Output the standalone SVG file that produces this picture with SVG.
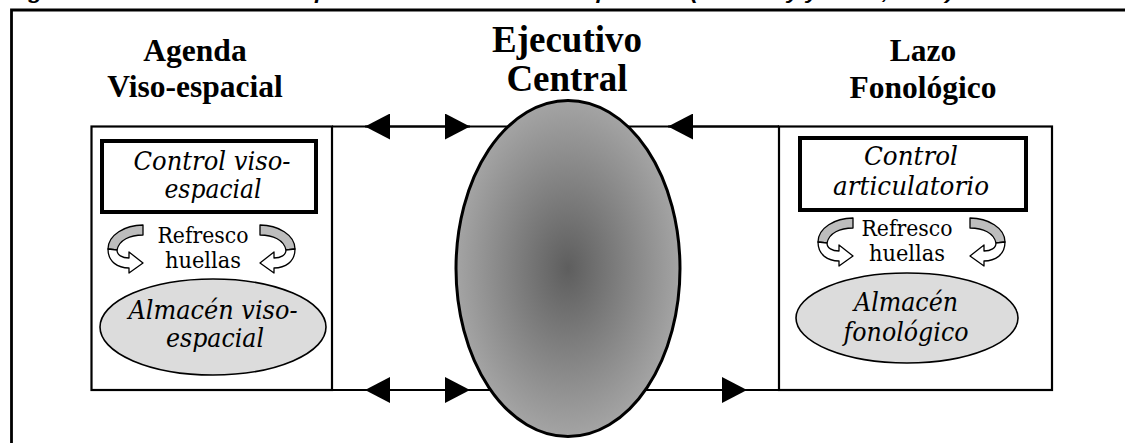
<svg xmlns="http://www.w3.org/2000/svg" xmlns:xlink="http://www.w3.org/1999/xlink" width="1125" height="443" viewBox="0 0 1125 443">
<style>
.head{font-family:"Liberation Serif","Times New Roman",serif;font-weight:bold;text-anchor:middle;fill:#000}
.lab{font-family:"DejaVu Serif",serif;font-style:italic;font-size:26px;text-anchor:middle;fill:#000}
.ref{font-family:"DejaVu Serif",serif;font-size:22px;text-anchor:middle;fill:#000}
.panel{fill:#fff;stroke:#000;stroke-width:2.2}
.ctrl{fill:#fff;stroke:#000;stroke-width:4}
.store{fill:#dcdcdc;stroke:#000;stroke-width:1.6}
.conn{stroke:#000;stroke-width:2.2;fill:none}
.cap{font-family:"Liberation Sans",Arial,sans-serif;font-weight:bold;font-style:italic;font-size:18px;fill:#000}
</style>
<defs>
<radialGradient id="ceGrad" cx="0.5" cy="0.5" r="0.5">
<stop offset="0" stop-color="#5e5e5e"/>
<stop offset="1" stop-color="#a4a4a4"/>
</radialGradient>
<marker id="ah" viewBox="0 0 25 26" refX="25" refY="13" markerWidth="25" markerHeight="26" markerUnits="userSpaceOnUse" orient="auto-start-reverse">
<path d="M0,0 L25,13 L0,26 Z" fill="#000"/>
</marker>
<g id="curl">
<path d="M35,0 C17,0 0,10 0,24 L9,25 C11,15 22,10 35,10 Z" fill="#bdbdbd" stroke="#000" stroke-width="1.3" stroke-linejoin="round"/>
<path d="M0,24 C0,37 10,43 21,43 L21,48 L35,38 L21,27 L21,33 C14,33 9,30 9,25 Z" fill="#fff" stroke="#000" stroke-width="1.3" stroke-linejoin="round"/>
</g>
</defs>
<rect width="1125" height="443" fill="#fff"/>
<text class="cap" x="8" y="-1" textLength="945" lengthAdjust="spacingAndGlyphs">Figura 1. Modelo de los componentes de la memoria operativa (Baddeley y Hitch, 1974)</text>
<path d="M11.5,443 L11.5,10 L1125,10" fill="none" stroke="#000" stroke-width="2.8"/>

<g id="agenda">
<text class="head" x="195" y="61" font-size="31.5">Agenda</text>
<text class="head" x="195" y="97" font-size="31.5">Viso-espacial</text>
<rect class="panel" x="91.5" y="126.5" width="240.5" height="263.5"/>
<rect class="ctrl" x="102" y="141" width="214" height="71"/>
<text class="lab" x="212" y="170" textLength="157" lengthAdjust="spacingAndGlyphs">Control viso-</text>
<text class="lab" x="213" y="198" textLength="97" lengthAdjust="spacingAndGlyphs">espacial</text>
<use xlink:href="#curl" transform="translate(108,225)"/>
<use xlink:href="#curl" transform="translate(295,225) scale(-1,1)"/>
<text class="ref" x="203" y="243" textLength="91" lengthAdjust="spacingAndGlyphs">Refresco</text>
<text class="ref" x="203" y="268" textLength="76" lengthAdjust="spacingAndGlyphs">huellas</text>
<ellipse class="store" cx="213" cy="327" rx="113" ry="48"/>
<text class="lab" x="213" y="319" textLength="169" lengthAdjust="spacingAndGlyphs">Almacén viso-</text>
<text class="lab" x="215" y="347" textLength="98" lengthAdjust="spacingAndGlyphs">espacial</text>
</g>

<g id="lazo">
<text class="head" x="923" y="61" font-size="31.5">Lazo</text>
<text class="head" x="923" y="98" font-size="31.5">Fonológico</text>
<rect class="panel" x="779" y="126.5" width="273" height="263.5"/>
<rect class="ctrl" x="800" y="138" width="226" height="72"/>
<text class="lab" x="911" y="165" textLength="94" lengthAdjust="spacingAndGlyphs">Control</text>
<text class="lab" x="911" y="195" textLength="156" lengthAdjust="spacingAndGlyphs">articulatorio</text>
<use xlink:href="#curl" transform="translate(818,218)"/>
<use xlink:href="#curl" transform="translate(1005,218) scale(-1,1)"/>
<text class="ref" x="907" y="236" textLength="91" lengthAdjust="spacingAndGlyphs">Refresco</text>
<text class="ref" x="907" y="261" textLength="76" lengthAdjust="spacingAndGlyphs">huellas</text>
<ellipse class="store" cx="907" cy="318" rx="111" ry="45"/>
<text class="lab" x="906" y="311" textLength="104" lengthAdjust="spacingAndGlyphs">Almacén</text>
<text class="lab" x="906" y="341" textLength="125" lengthAdjust="spacingAndGlyphs">fonológico</text>
</g>

<g id="connectors">
<line class="conn" x1="332" y1="126.5" x2="779" y2="126.5"/>
<line class="conn" x1="332" y1="390" x2="779" y2="390"/>
<line class="conn" x1="365" y1="126.5" x2="470" y2="126.5" marker-start="url(#ah)" marker-end="url(#ah)"/>
<line class="conn" x1="779" y1="126.5" x2="668" y2="126.5" marker-end="url(#ah)"/>
<line class="conn" x1="365" y1="390" x2="470" y2="390" marker-start="url(#ah)" marker-end="url(#ah)"/>
<line class="conn" x1="690" y1="390" x2="747" y2="390" marker-end="url(#ah)"/>
</g>

<g id="ejecutivo">
<text class="head" x="567" y="52" font-size="37">Ejecutivo</text>
<text class="head" x="567" y="91" font-size="37">Central</text>
<ellipse cx="568" cy="268.5" rx="112" ry="168" fill="url(#ceGrad)" stroke="#000" stroke-width="3"/>
</g>
</svg>
